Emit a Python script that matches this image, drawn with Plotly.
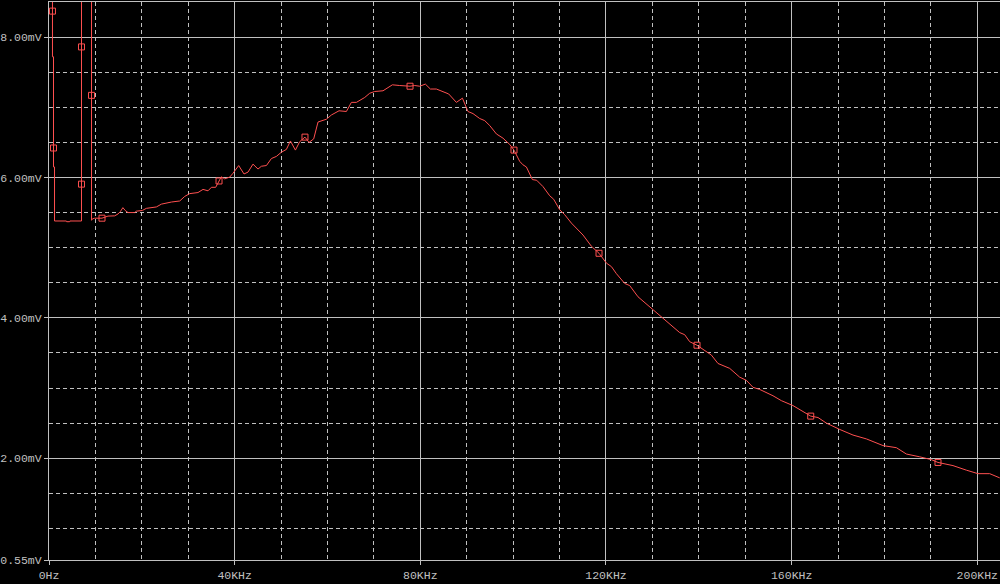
import plotly.graph_objects as go

# Frequency in KHz, voltage in mV (values above 8.5 mV run off the top of the plot)
freq_khz = [0.75, 0.75, 0.97, 0.97, 1.19, 1.19, 3.75, 3.80, 4.45, 4.50, 7.00, 7.00,
            9.16, 9.16, 9.35, 9.85, 11.42, 12.0, 12.71, 14.15, 14.87, 15.38, 15.92, 16.42,
            17.02, 18.46, 18.83, 20.12, 20.98, 23.14, 24.22, 26.37, 28.16, 29.24, 30.31,
            32.10, 33.18, 34.26, 34.99, 35.91, 36.63, 37.14, 37.85, 38.93, 39.64, 40.87,
            42.01, 42.87, 43.95, 45.03, 45.76, 46.84, 47.92, 48.99, 50.07, 51.15, 52.01,
            53.09, 54.01, 55.15, 56.02, 57.03, 57.96, 59.76, 60.84, 62.48, 64.07, 65.15,
            66.23, 68.02, 69.09, 70.17, 71.96, 73.98, 75.56, 77.78, 78.79, 79.87, 81.09,
            82.17, 83.46, 84.89, 86.11, 87.77, 89.07, 90.27, 91.35, 92.79, 93.87, 94.95,
            96.39, 97.81, 99.26, 100.18, 101.41, 102.12, 102.85, 104.15, 105.07, 106.43,
            107.87, 108.73, 110.03, 111.10, 112.55, 115.05, 116.86, 118.50, 120.09, 121.17,
            122.24, 124.03, 125.11, 126.90, 128.34, 130.13, 131.57, 133.73, 135.88, 136.96,
            138.04, 139.61, 141.27, 142.71, 144.13, 146.66, 148.81, 150.25, 151.68, 153.12,
            155.98, 157.79, 160.29, 164.11, 165.68, 167.49, 170.36, 173.22, 176.11, 179.69,
            182.57, 184.72, 187.59, 190.11, 191.53, 193.34, 194.76, 197.65, 200.15, 202.67,
            204.83]
volt_mv = [9.6, 7.72, 7.72, 6.15, 6.15, 5.38, 5.38, 5.37, 5.37, 5.38, 5.38, 9.6,
           9.6, 5.39, 5.41, 5.42, 5.42, 5.43, 5.45, 5.453, 5.48, 5.515, 5.57, 5.53,
           5.50, 5.50, 5.52, 5.53, 5.56, 5.58, 5.62, 5.65, 5.665, 5.73, 5.77,
           5.785, 5.83, 5.81, 5.86, 5.86, 5.95, 6.01, 5.98, 6.005, 6.06, 6.17,
           6.05, 6.076, 6.19, 6.12, 6.16, 6.17, 6.27, 6.30, 6.36, 6.40, 6.52,
           6.39, 6.51, 6.575, 6.50, 6.55, 6.79, 6.83, 6.89, 6.95, 6.94, 7.07,
           7.07, 7.14, 7.20, 7.225, 7.235, 7.32, 7.31, 7.30, 7.31, 7.30, 7.33,
           7.26, 7.26, 7.22, 7.19, 7.07, 7.13, 6.94, 6.91, 6.84, 6.81, 6.74,
           6.62, 6.56, 6.47, 6.39, 6.23, 6.18, 6.15, 5.97, 5.96, 5.87,
           5.74, 5.69, 5.54, 5.47, 5.35, 5.18, 5.02, 4.92, 4.78, 4.73,
           4.63, 4.49, 4.46, 4.30, 4.22, 4.11, 4.04, 3.92, 3.79, 3.76,
           3.66, 3.61, 3.54, 3.47, 3.35, 3.28, 3.155, 3.11, 3.01, 2.98,
           2.89, 2.82, 2.75, 2.60, 2.58, 2.50, 2.41, 2.33, 2.275, 2.18,
           2.15, 2.06, 2.02, 1.98, 1.94, 1.915, 1.895, 1.83, 1.78, 1.78,
           1.72]

# Marker symbols placed along the trace
marker_khz = [0.75, 0.97, 7.00, 7.00, 9.16, 11.42, 36.63, 55.15, 77.78, 100.18,
              118.50, 139.61, 164.11, 191.53]
marker_mv = [8.37, 6.42, 7.86, 5.905, 7.17, 5.42, 5.95, 6.575, 7.30, 6.39,
             4.92, 3.61, 2.60, 1.94]

x_tickvals = [0, 40, 80, 120, 160, 200]
x_ticktext = ["0Hz", "40KHz", "80KHz", "120KHz", "160KHz", "200KHz"]
y_tickvals = [0.55, 2, 4, 6, 8]
y_ticktext = ["0.55mV", "2.00mV", "4.00mV", "6.00mV", "8.00mV"]

RED = "#ff5050"
GRID = "#c0c0c0"
FONT = dict(family="Liberation Mono, DejaVu Sans Mono, monospace", size=11.5, color="#c0c0c0")

fig = go.Figure()
fig.add_trace(go.Scatter(x=freq_khz, y=volt_mv, mode="lines",
                         line=dict(color=RED, width=1), hoverinfo="skip", showlegend=False))
fig.add_trace(go.Scatter(x=marker_khz, y=marker_mv, mode="markers",
                         marker=dict(symbol="square-open", size=6, color=RED, line=dict(width=1, color=RED)),
                         hoverinfo="skip", showlegend=False))

fig.update_layout(
    width=1000, height=584,
    margin=dict(l=49, r=0, t=2, b=24, autoexpand=False),
    paper_bgcolor="black", plot_bgcolor="black",
    font=FONT,
    xaxis=dict(range=[0, 204.89], tickmode="array", tickvals=x_tickvals, ticktext=x_ticktext,
               automargin=False,
               showgrid=True, gridcolor=GRID, gridwidth=1, zeroline=False,
               showline=True, linecolor=GRID, linewidth=1, mirror=True,
               ticks="outside", ticklen=4, tickcolor=GRID, tickfont=FONT,
               minor=dict(tickmode="linear", tick0=0, dtick=10, showgrid=True,
                          gridcolor=GRID, gridwidth=1, griddash="4px,3px", ticks="")),
    yaxis=dict(range=[0.55, 8.5], tickmode="array", tickvals=y_tickvals, ticktext=y_ticktext,
               automargin=False,
               showgrid=True, gridcolor=GRID, gridwidth=1, zeroline=False,
               showline=True, linecolor=GRID, linewidth=1,
               ticks="outside", ticklen=4, tickcolor=GRID, tickfont=FONT,
               minor=dict(tickmode="linear", tick0=0, dtick=0.5, showgrid=True,
                          gridcolor=GRID, gridwidth=1, griddash="4px,3px", ticks="")),
)

fig.write_html("out.html", config={"displayModeBar": False},
               post_script="document.body.style.margin='0';document.body.style.background='black';")
